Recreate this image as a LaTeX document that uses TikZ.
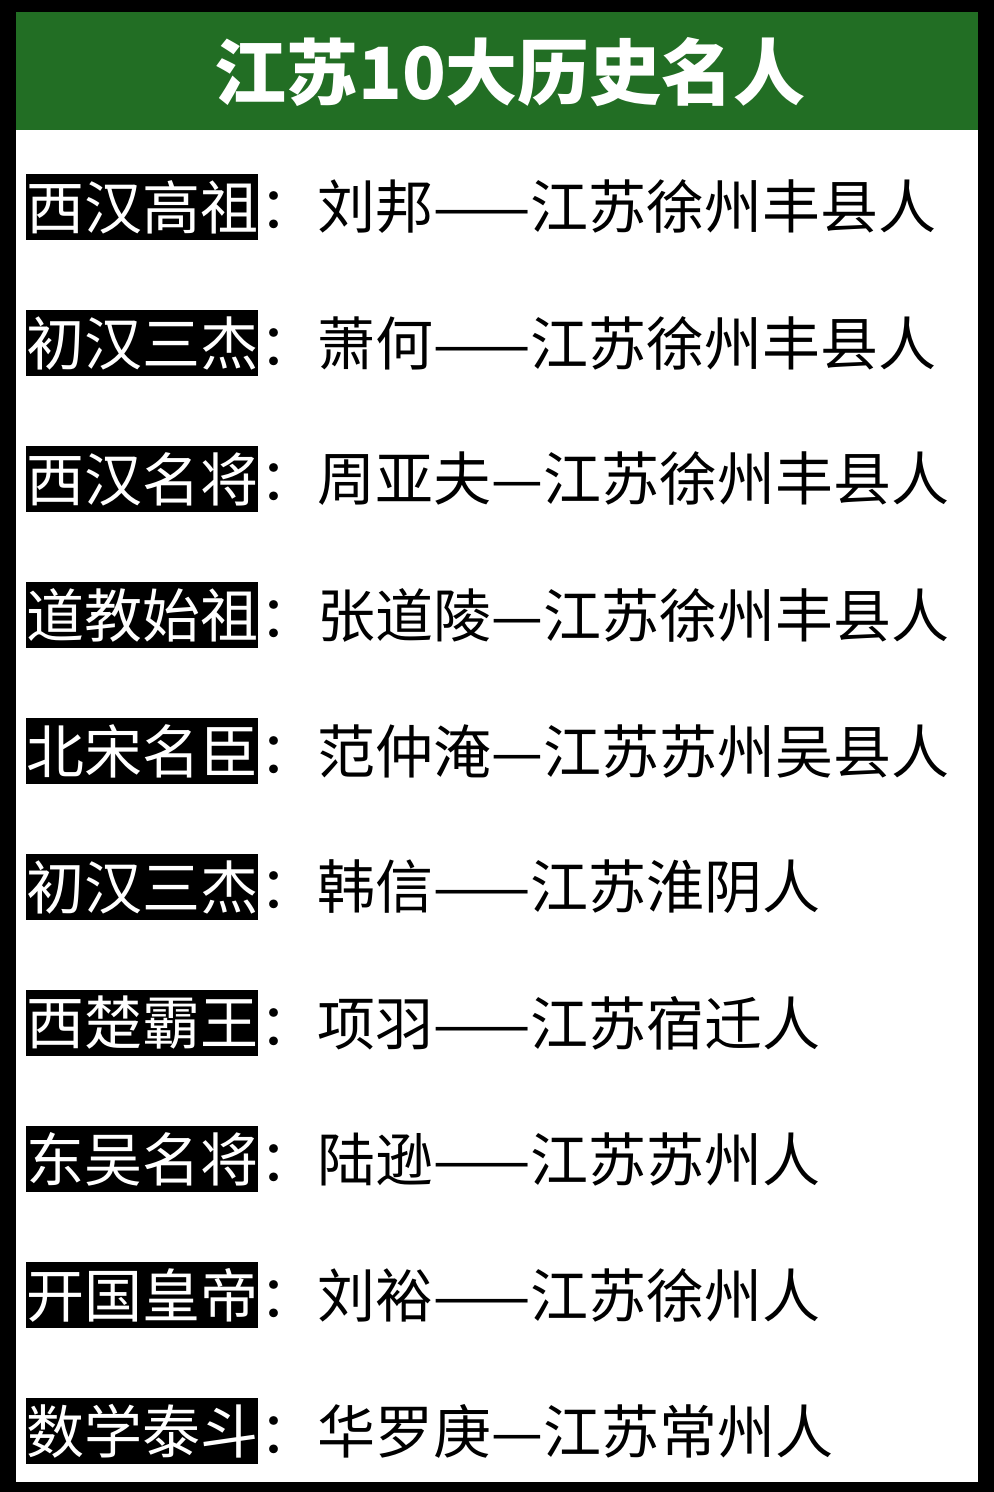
\documentclass[tikz,border=0pt]{standalone}
\usepackage{fontspec}
\newfontfamily\cjk{Noto Sans CJK SC}
\newfontfamily\cjkmed{Noto Sans CJK SC Medium}
\usetikzlibrary{positioning}
\definecolor{headgreen}{RGB}{34,110,36}
\tikzset{
  tag/.style={fill=black,text=white,inner sep=0pt,minimum height=33pt,anchor=west,font=\cjk\fontsize{29}{29}\selectfont},
  entry/.style={inner sep=0pt,anchor=west,font=\cjk\fontsize{29}{29}\selectfont}
}
\begin{document}
\begin{tikzpicture}[x=0.5pt,y=-0.5pt]
\useasboundingbox (0,0) rectangle (994,1492);
% frame and page
\fill[black] (0,0) rectangle (994,1492);
\fill[white] (16,12) rectangle (978,1482);
\fill[headgreen] (16,12) rectangle (978,130);
\node[text=white,font=\cjk\bfseries\fontsize{36}{36}\selectfont] (title) at (510,72) {江苏10大历史名人};
% rows
\foreach \lab/\txt [count=\i from 0] in {
  西汉高祖/刘邦——江苏徐州丰县人,
  初汉三杰/萧何——江苏徐州丰县人,
  西汉名将/周亚夫—江苏徐州丰县人,
  道教始祖/张道陵—江苏徐州丰县人,
  北宋名臣/范仲淹—江苏苏州吴县人,
  初汉三杰/韩信——江苏淮阴人,
  西楚霸王/项羽——江苏宿迁人,
  东吴名将/陆逊——江苏苏州人,
  开国皇帝/刘裕——江苏徐州人,
  数学泰斗/华罗庚—江苏常州人}{
  \node[tag] (tag\i) at (26,{207+136*\i}) {\lab};
  \node[entry,right=0pt of tag\i] (entry\i) {：\txt};
}
\end{tikzpicture}
\end{document}
